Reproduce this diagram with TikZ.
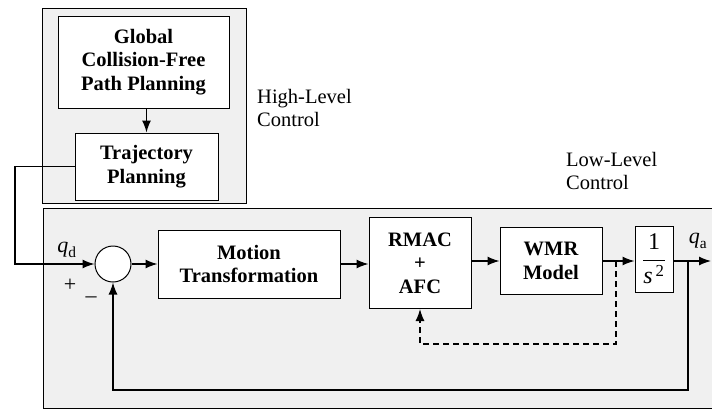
\documentclass[tikz,border=0pt]{standalone}
\usepackage{amsmath}
\usepackage{fontspec}
\setmainfont{Liberation Serif}
\usetikzlibrary{arrows.meta,positioning}

\tikzset{
  block/.style={draw, fill=white, line width=1pt, align=center, inner sep=0pt,
    font=\bfseries\fontsize{20.5}{23.5}\selectfont},
  group/.style={draw, fill=gray!12, line width=1pt, inner sep=0pt},
  sumnode/.style={circle, draw, fill=white, line width=1pt, minimum size=36pt, inner sep=0pt},
  wire/.style={line width=1.3pt},
  note/.style={align=left, anchor=north west, inner sep=0pt, font=\fontsize{20.5}{23}\selectfont},
  sig/.style={font=\fontsize{22}{26}\selectfont}
}

\begin{document}
\begin{tikzpicture}[x=1pt,y=-1pt,>={Latex[length=12pt,width=9pt]}]
\useasboundingbox (0,0) rectangle (712,410);

% high-level part
\node[group, minimum width=204pt, minimum height=195pt] (high) at (144,105.5) {};
\node[block, minimum width=171pt, minimum height=92pt] (glob) at (143.5,62) {Global\\Collision-Free\\Path Planning};
\node[block, minimum width=143pt, minimum height=67pt] (traj) at (146.5,166.5) {Trajectory\\Planning};
\node[note] (hlabel) at (257,89) {High-Level\\Control};
\draw[wire,->] (glob.south -| traj.north) -- (traj.north);

% low-level part
\fill[gray!12] (43,208) rectangle (712,408);
\draw[line width=1pt] (712,208) -- (43,208) -- (43,408) -- (712,408);
\node[note] (llabel) at (566,152) {Low-Level\\Control};

\node[sumnode] (sum) at (113,264) {};
\node[block, minimum width=182pt, minimum height=68pt] (motion) at (249,264) {Motion\\Transformation};
\node[block, minimum width=102pt, minimum height=91pt] (rmac) at (420,263) {RMAC\\+\\AFC};
\node[block, minimum width=102pt, minimum height=67pt] (wmr) at (551,261) {WMR\\Model};
\node[block, font=\fontsize{24}{28}\selectfont, minimum width=38pt, minimum height=66pt] (integ) at (654,259) {$\dfrac{\text{1}}{\textit{s}^{\,\text{2}}}$};

\node[sig] (qd) at (67,250) {$\textit{q}_{\text{d}}$};
\node[sig] (plus) at (70,285) {+};
\node[sig] (minus) at (91,300) {\textendash};
\node[sig] (qa) at (698,241) {$\textit{q}_{\text{a}}$};

\coordinate (bend) at (15,220);
\coordinate (out) at (711,261);
\coordinate (fb) at (688,261);
\coordinate (fbcorner) at (113,390);
\coordinate (dsplit) at (616,261);
\coordinate (dcorner) at (420,344);

% signal flow
\draw[wire,->] (traj.west) -| (bend) |- (sum.west);
\draw[wire,->] (sum) -- (motion);
\draw[wire,->] (motion.east) -- (rmac.west |- motion.east);
\draw[wire,->] (rmac.east |- wmr.west) -- (wmr.west);
\draw[wire,->] (wmr.east) -- (integ.west |- wmr.east);
\draw[wire,->] (integ.east |- out) -- (out);
\draw[wire,->] (fb) |- (fbcorner) -- (sum.south);
\draw[wire,dash pattern=on 6pt off 4pt,->] (dsplit) |- (dcorner) -- (rmac.south);
\end{tikzpicture}
\end{document}
